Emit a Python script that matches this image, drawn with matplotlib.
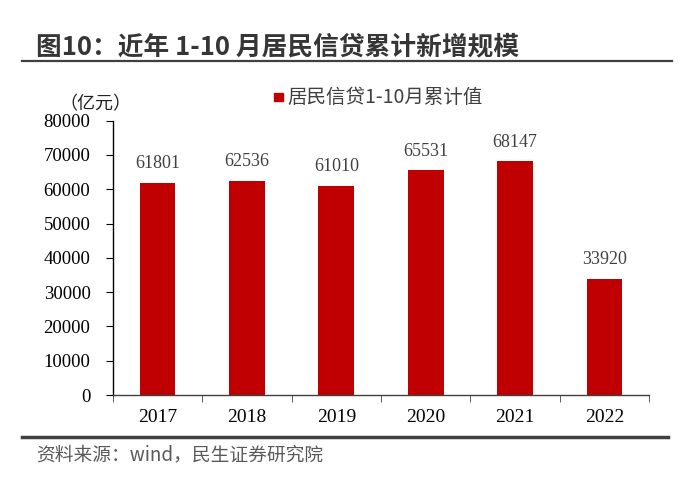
import matplotlib.pyplot as plt
import numpy as np
from matplotlib.lines import Line2D

# data
years = ["2017", "2018", "2019", "2020", "2021", "2022"]
values = [61801, 62536, 61010, 65531, 68147, 33920]
yticks = [0, 10000, 20000, 30000, 40000, 50000, 60000, 70000, 80000]

BAR_COLOR = "#C00000"
CJK = ["Noto Sans CJK SC", "DejaVu Sans"]
SERIF = ["Liberation Serif", "DejaVu Serif"]

W, H = 679, 491


def fx(px):
    return px / W


def fy(py):
    return 1 - py / H


fig = plt.figure(figsize=(6.79, 4.91), dpi=100)
ax = fig.add_axes([fx(112.7), fy(395), fx(649.3) - fx(112.7), fy(120.7) - fy(395)])

x = np.arange(len(years))
ax.bar(x, values, width=0.40, color=BAR_COLOR, zorder=2)
for xi, v in zip(x, values):
    ax.text(xi, v + 4300, str(v), ha="center", va="baseline", fontsize=13,
            family=SERIF, color="#404040")

ax.set_xlim(-0.5, len(years) - 0.5)
ax.set_ylim(0, 80000)
ax.set_yticks(yticks)
ax.set_yticklabels([str(t) for t in yticks], family=SERIF, fontsize=13.5)
ax.set_xticks(x)
ax.set_xticklabels(years, family=SERIF, fontsize=14)
ax.set_xticks(np.arange(-0.5, len(years)), minor=True)
ax.tick_params(axis="x", which="major", length=0, pad=10)
ax.tick_params(axis="x", which="minor", length=5, direction="out", color="#404040")
ax.tick_params(axis="y", length=5, direction="out", pad=11)

for s in ["top", "right"]:
    ax.spines[s].set_visible(False)
ax.spines["left"].set_color("black")
ax.spines["bottom"].set_color("#404040")
ax.spines["left"].set_linewidth(1.0)
ax.spines["bottom"].set_linewidth(1.0)

# title + rules
fig.text(fx(36), fy(47), "图10：近年 1-10 月居民信贷累计新增规模", fontsize=18.5,
         fontweight="bold", family=CJK, color="#363636", va="center", ha="left")
fig.add_artist(Line2D([fx(22), fx(672)], [fy(61), fy(61)],
                      color="#404040", linewidth=1.6))
fig.add_artist(Line2D([fx(22), fx(668)], [fy(436.5), fy(436.5)],
                      color="#404040", linewidth=2.5))

# unit label
fig.text(fx(95), fy(104), "（亿元）", fontsize=13, family=["Noto Sans CJK JP", "DejaVu Sans"],
         color="#222222", ha="center", va="center")

# legend
fig.patches.append(plt.Rectangle((fx(274), fy(101)), 9 / W, 8 / H,
                                 transform=fig.transFigure, color=BAR_COLOR))
fig.text(fx(287), fy(97), "居民信贷1-10月累计值", fontsize=14, family=CJK,
         color="#404040", ha="left", va="center")

# source
fig.text(fx(36), fy(455), "资料来源：wind，民生证券研究院", fontsize=13.5,
         family=CJK, color="#595959", ha="left", va="center")

fig.savefig("out.png", dpi=100)
